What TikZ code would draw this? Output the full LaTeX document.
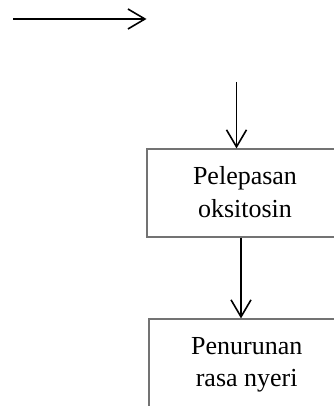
\documentclass[tikz,border=0pt]{standalone}
\usepackage{fontspec}
\setmainfont{Liberation Serif}
\usetikzlibrary{arrows.meta,calc}
\begin{document}
\begin{tikzpicture}[x=1pt,y=1pt,
  flowbox/.style={draw=black!55, line width=1.2pt, inner sep=0pt},
  lbl/.style={font=\fontsize{26}{33.5}\selectfont, align=center, inner sep=0pt, anchor=base},
  arr/.style={draw=black, line width=1.6pt, -{Straight Barb[length=17pt,width=20pt,line width=1.6pt]}}]
\useasboundingbox (0,0) rectangle (333,406);
% top arrow
\coordinate (h0) at (13,387);
\coordinate (h1) at (146.5,387);
\draw[arr] (h0) -- (h1);
% box 1
\node[flowbox, minimum width=196pt, minimum height=88pt] (b1) at (245,213) {};
\node[lbl] (t1a) at (245,221.5) {Pelepasan};
\node[lbl] (t1b) at (245,188) {oksitosin};
% box 2
\node[flowbox, minimum width=196pt, minimum height=100pt] (b2) at (247,37) {};
\node[lbl] (t2a) at (246.7,51) {Penurunan};
\node[lbl] (t2b) at (246.7,19) {rasa nyeri};
% vertical arrows
\coordinate (v0) at (236.5,324);
\draw[arr] (v0) -- (v0 |- b1.north);
\coordinate (v1) at (241,0);
\draw[arr] (v1 |- b1.south) -- (v1 |- b2.north);
\end{tikzpicture}
\end{document}
